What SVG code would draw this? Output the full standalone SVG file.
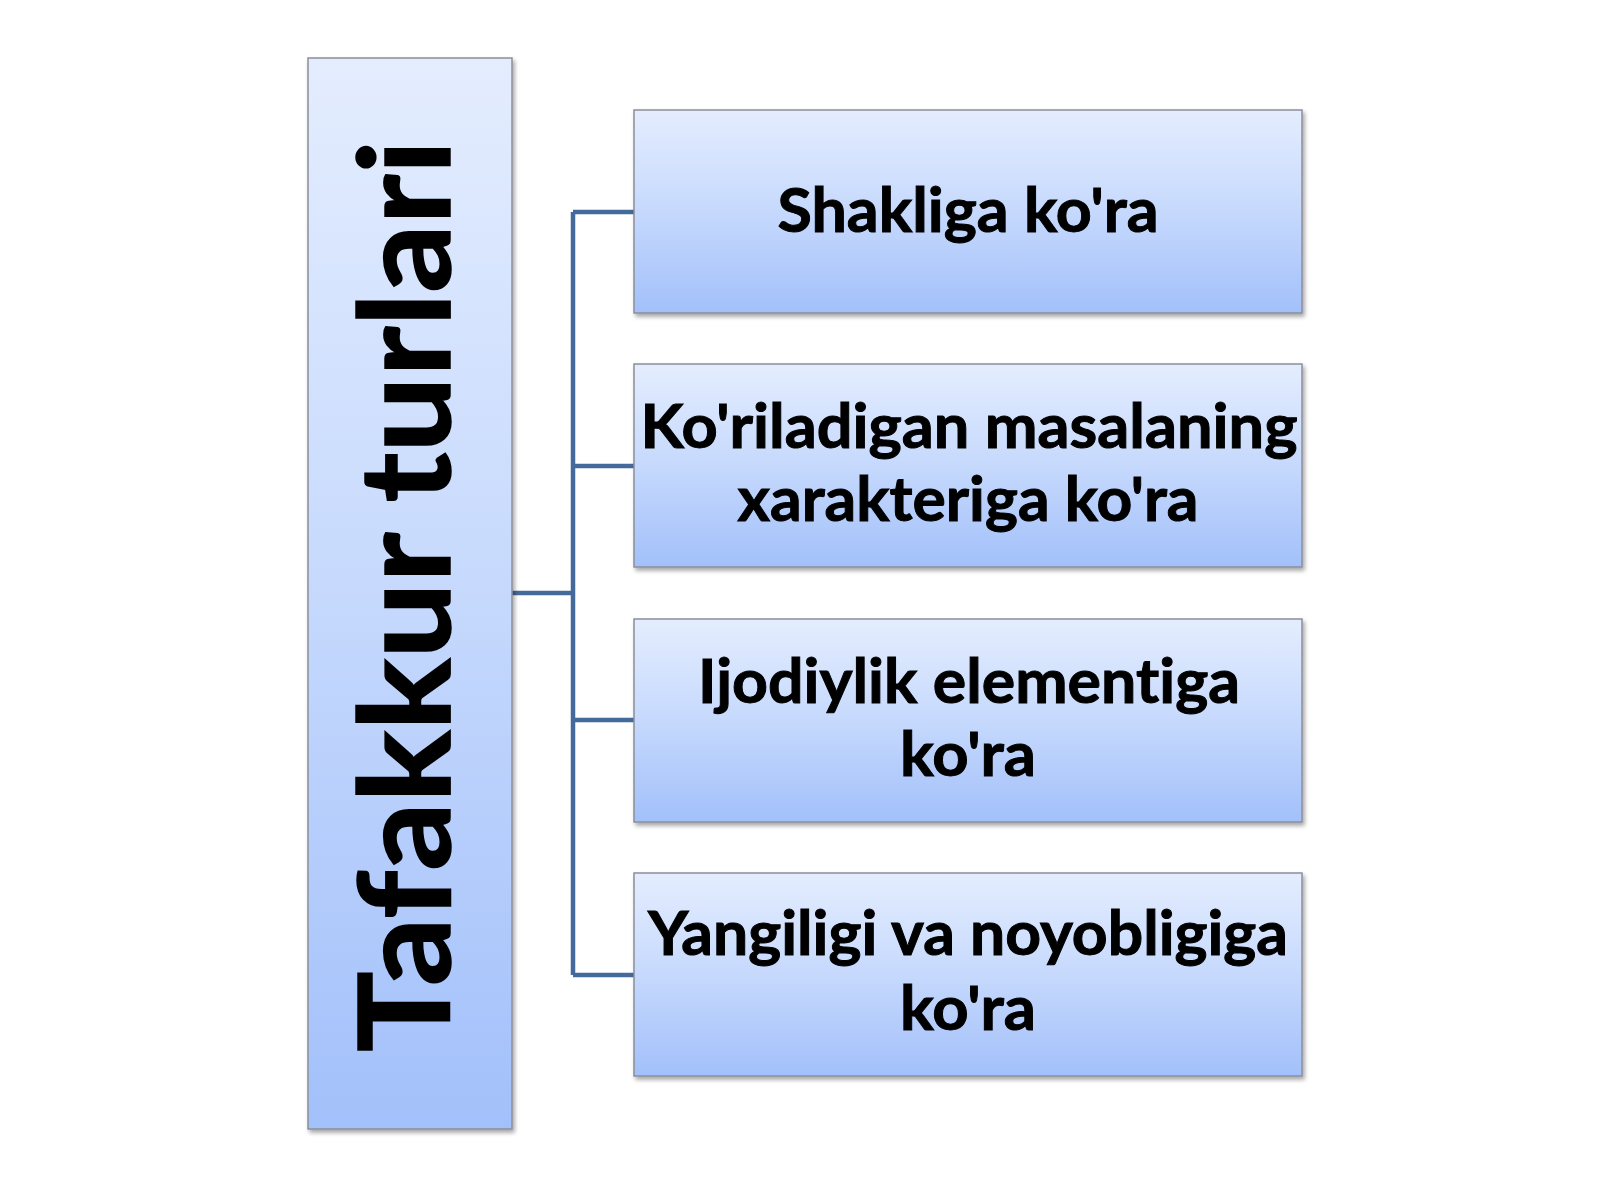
<svg xmlns="http://www.w3.org/2000/svg" width="1600" height="1200" viewBox="0 0 1600 1200">
  <defs>
    <linearGradient id="boxGrad" x1="0" y1="0" x2="0" y2="1">
      <stop offset="0" stop-color="#E4EDFE"/>
      <stop offset="0.5" stop-color="#C6D9FD"/>
      <stop offset="1" stop-color="#A2C0FA"/>
    </linearGradient>
    <filter id="shadow" x="-5%" y="-5%" width="110%" height="115%">
      <feDropShadow dx="2" dy="3" stdDeviation="2" flood-color="#000" flood-opacity="0.35"/>
    </filter>
  </defs>
  <style>
    .box { fill: url(#boxGrad); stroke: #8A8F99; stroke-width: 1.5; filter: url(#shadow); }
    .lbl { font-family: "Lato", "Open Sans", "Liberation Sans", sans-serif; font-weight: 700; font-size: 62px; fill: #000; stroke: #000; stroke-width: 1; text-anchor: middle; font-variant-ligatures: none; }
    .title { font-family: "Lato", "Open Sans", "Liberation Sans", sans-serif; font-weight: 700; font-size: 126px; fill: #000; stroke: #000; stroke-width: 1.5; text-anchor: middle; font-variant-ligatures: none; }
    .conn { fill: none; stroke: #44699B; stroke-width: 4.5; }
  </style>
  <rect width="1600" height="1200" fill="#FFFFFF"/>

  <g id="connectors">
    <path class="conn" d="M512 593 H573"/>
    <path class="conn" d="M573 212 V975"/>
    <path class="conn" d="M573 212 H634"/>
    <path class="conn" d="M573 466 H634"/>
    <path class="conn" d="M573 720 H634"/>
    <path class="conn" d="M573 975 H634"/>
  </g>

  <g id="root">
    <rect class="box" x="308" y="58" width="204" height="1071"/>
    <text class="title" transform="translate(450,596) rotate(-90)" x="0" y="0" textLength="912" lengthAdjust="spacingAndGlyphs">Tafakkur turlari</text>
  </g>

  <g id="node1">
    <rect class="box" x="634" y="110" width="668" height="203"/>
    <text class="lbl" x="968" y="232" textLength="381" lengthAdjust="spacingAndGlyphs">Shakliga ko'ra</text>
  </g>

  <g id="node2">
    <rect class="box" x="634" y="364" width="668" height="203"/>
    <text class="lbl" x="969" y="448" textLength="657" lengthAdjust="spacingAndGlyphs">Ko'riladigan masalaning</text>
    <text class="lbl" x="968" y="521" textLength="461" lengthAdjust="spacingAndGlyphs">xarakteriga ko'ra</text>
  </g>

  <g id="node3">
    <rect class="box" x="634" y="619" width="668" height="203"/>
    <text class="lbl" x="969" y="703" textLength="542" lengthAdjust="spacingAndGlyphs">Ijodiylik elementiga</text>
    <text class="lbl" x="968" y="776" textLength="136" lengthAdjust="spacingAndGlyphs">ko'ra</text>
  </g>

  <g id="node4">
    <rect class="box" x="634" y="873" width="668" height="203"/>
    <text class="lbl" x="968" y="955" textLength="640" lengthAdjust="spacingAndGlyphs">Yangiligi va noyobligiga</text>
    <text class="lbl" x="968" y="1030" textLength="136" lengthAdjust="spacingAndGlyphs">ko'ra</text>
  </g>
</svg>
